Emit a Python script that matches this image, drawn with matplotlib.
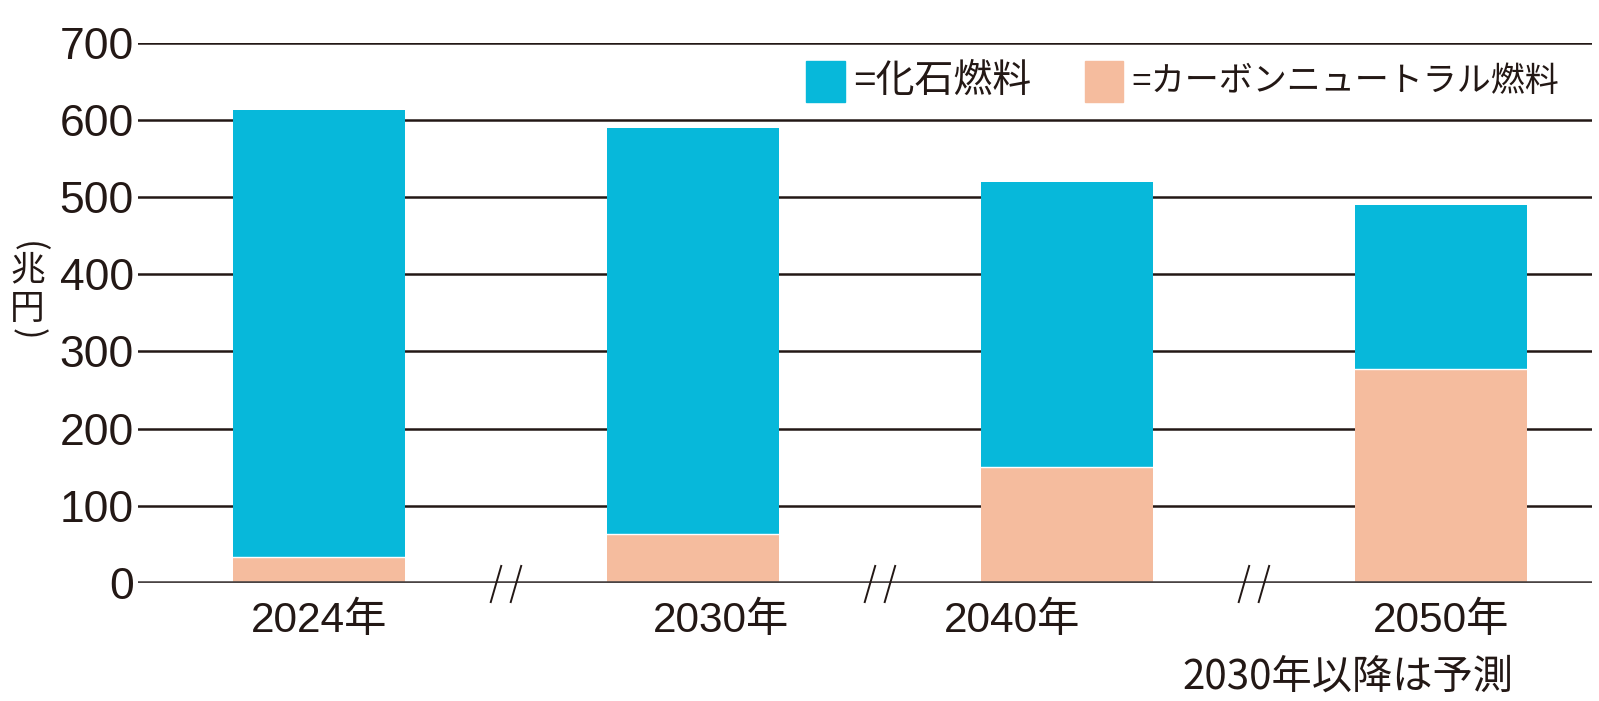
import matplotlib
matplotlib.use("Agg")
import matplotlib.pyplot as plt
from matplotlib.patches import Rectangle
import numpy as np

# ---- data ----
years = ["2024年", "2030年", "2040年", "2050年"]
total = [613, 590, 520, 490]             # top of each stacked bar
carbon_neutral = [34, 63, 150, 277]      # lower (peach) segment
fossil = [t - c for t, c in zip(total, carbon_neutral)]
yticks = [0, 100, 200, 300, 400, 500, 600, 700]
label_offsets = [0.0, 0.075, -0.147, 0.0]
unit_chars = ["兆", "円"]

BLUE = "#07B8DA"
PEACH = "#F5BC9E"
INK = "#231815"

NUM_FONT = ["Liberation Sans", "Noto Sans CJK JP", "DejaVu Sans"]
JP_FONT = ["Noto Sans CJK JP", "DejaVu Sans"]

W, H = 1599, 701
fig = plt.figure(figsize=(W / 100, H / 100), dpi=100)
L, R, B, T = 138, 1592, 583, 42.7
ax = fig.add_axes([L / W, 1 - B / H, (R - L) / W, (B - T) / H])

x = np.arange(len(years))
w = 0.46
ax.bar(x, carbon_neutral, w, color=PEACH, edgecolor="none", zorder=3)
ax.bar(x, fossil, w, bottom=carbon_neutral, color=BLUE, edgecolor="none", zorder=3)
for xi, c in zip(x, carbon_neutral):
    ax.plot([xi - w / 2, xi + w / 2], [c, c], color="white", lw=1.0, zorder=4)

ax.set_xlim(-0.484, 3.404)
ax.set_ylim(0, 700)
ax.set_yticks(yticks)
ax.set_yticklabels([str(v) for v in yticks], family=NUM_FONT, fontsize=32, color=INK)
ax.tick_params(axis="y", length=0, pad=3)
ax.set_xticks([])
for s in ax.spines.values():
    s.set_visible(False)

for v in yticks[1:]:
    ax.axhline(v, color=INK, lw=1.8, zorder=1)
ax.axhline(0, color="#4a4444", lw=2.6, zorder=5)

# x labels
for xi, lab, off in zip(x, years, label_offsets):
    ax.text(xi + off, -64, lab, ha="center", va="baseline", family=NUM_FONT,
            fontsize=30.5, color=INK)

# break marks between categories
for b in x[:-1] + 0.5:
    for dx in (-0.0267, 0.0267):
        ax.plot([b + dx - 0.0147, b + dx + 0.0147], [-25.9, 23.3], color=INK, lw=1.4,
                clip_on=False, zorder=6, solid_capstyle="butt")

# footnote
fig.text(1513 / W, 1 - 689 / H, "2030年以降は予測", ha="right", va="baseline",
         family=JP_FONT, fontsize=29, color=INK)

# y-axis unit label, written vertically: rotated brackets + upright kanji
ux = 27.5 / W
fig.text(ux, 1 - 247 / H, "(", rotation=-90, ha="center", va="center",
         family=JP_FONT, fontsize=25, color=INK)
for ch, yc in zip(unit_chars, [270, 310]):
    fig.text(ux, 1 - yc / H, ch, ha="center", va="center",
             family=JP_FONT, fontsize=25, color=INK)
fig.text(ux, 1 - 334 / H, ")", rotation=-90, ha="center", va="center",
         family=JP_FONT, fontsize=25, color=INK)

# legend
fig.patches.append(Rectangle((806 / W, 1 - 102 / H), 39 / W, 41 / H,
                             transform=fig.transFigure, color=BLUE))
fig.text(853 / W, 1 - 82 / H, "=化石燃料", ha="left", va="center",
         family=NUM_FONT, fontsize=28, color=INK)
fig.patches.append(Rectangle((1085 / W, 1 - 102 / H), 38 / W, 41 / H,
                             transform=fig.transFigure, color=PEACH))
fig.text(1131 / W, 1 - 82 / H, "=カーボンニュートラル燃料", ha="left", va="center",
         family=NUM_FONT, fontsize=24.5, color=INK)

fig.savefig("out.png", dpi=100)
